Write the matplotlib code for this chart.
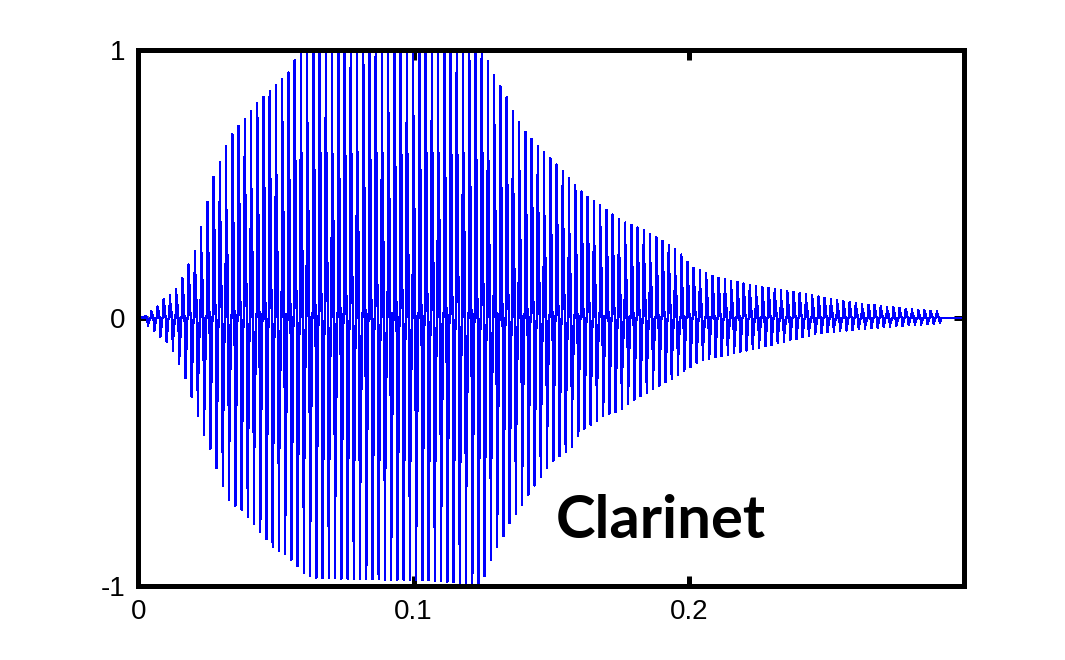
import numpy as np
import matplotlib
matplotlib.use('Agg')
import matplotlib.pyplot as plt

#%% values
# upper envelope of the note (time in s, peak value)
env_up_t = [0.0, 0.002, 0.004, 0.0068, 0.0094, 0.0117, 0.0141, 0.0162, 0.0184, 0.0206,
            0.0226, 0.0275, 0.0301, 0.0323, 0.0345, 0.0370, 0.0394, 0.0418, 0.0441,
            0.0482, 0.0512, 0.0551, 0.0573, 0.060, 0.090, 0.1255, 0.128, 0.1304,
            0.1330, 0.1370, 0.1400, 0.1460, 0.1500, 0.1540, 0.1580, 0.1620, 0.1690,
            0.1755, 0.1830, 0.1900, 0.1960, 0.2010, 0.2100, 0.2230, 0.2410, 0.2590,
            0.2770, 0.2915]
env_up_v = [0.0, 0.0, 0.02, 0.04, 0.07, 0.085, 0.11, 0.15, 0.20, 0.25,
            0.33, 0.53, 0.59, 0.65, 0.69, 0.72, 0.75, 0.78, 0.81,
            0.85, 0.88, 0.92, 0.97, 1.0, 1.0, 1.0, 0.93, 0.88,
            0.84, 0.75, 0.70, 0.63, 0.59, 0.55, 0.50, 0.46, 0.41,
            0.36, 0.33, 0.29, 0.25, 0.19, 0.15, 0.12, 0.09, 0.056,
            0.035, 0.022]

# lower envelope (time in s, trough value)
env_lo_t = [0.0, 0.002, 0.0035, 0.0080, 0.0105, 0.0130, 0.0152, 0.0174, 0.0199,
            0.0225, 0.0247, 0.0268, 0.0290, 0.0312, 0.0334, 0.0383, 0.0403,
            0.0446, 0.0493, 0.0537, 0.0605, 0.0650, 0.110, 0.1245, 0.1270, 0.1290,
            0.1312, 0.1334, 0.1356, 0.1381, 0.1403, 0.1470, 0.1500, 0.1525, 0.1570,
            0.1610, 0.1700, 0.1740, 0.1810, 0.1880, 0.1950, 0.2040, 0.2260, 0.2480,
            0.2700, 0.2915]
env_lo_v = [0.0, 0.0, -0.03, -0.07, -0.09, -0.13, -0.18, -0.23, -0.31,
            -0.39, -0.46, -0.50, -0.58, -0.64, -0.69, -0.72, -0.75,
            -0.80, -0.86, -0.88, -0.955, -0.97, -0.98, -1.0, -0.93, -0.88,
            -0.84, -0.80, -0.75, -0.72, -0.68, -0.58, -0.54, -0.52, -0.49,
            -0.42, -0.36, -0.35, -0.30, -0.26, -0.22, -0.16, -0.11, -0.056,
            -0.035, -0.02]

# one period of the tone (phase 0..1 -> normalised value), two humps each side
cycle_phase = [0.00, 0.04, 0.07, 0.09, 0.12, 0.16, 0.20, 0.24, 0.28, 0.32,
               0.36, 0.40, 0.44, 0.48, 0.52, 0.55, 0.57, 0.60, 0.64, 0.68,
               0.72, 0.76, 0.80, 0.84, 0.88, 0.92, 0.96]
cycle_value = [0.0, 0.50, 1.0, 1.0, 0.55, 0.30, 0.62, 0.55, 0.35, 0.15,
               0.08, 0.05, 0.0, -0.20, -0.60, -1.0, -1.0, -0.70, -0.40, -0.55,
               -0.50, -0.30, -0.12, -0.05, -0.03, 0.0, 0.02]

f0 = 441.5        # pitch, from spacing of the peaks
fs = 44100
t_end = 0.2915    # where the sound stops
x_max = 0.3

xticks = [0, 0.1, 0.2]
xtick_labels = ['0', '0.1', '0.2']
yticks = [-1, 0, 1]
ytick_labels = ['-1', '0', '1']

#%% build the samples
t = np.arange(0, x_max, 1.0 / fs)
phase = (t * f0) % 1.0
carrier = np.interp(phase, cycle_phase + [1.0], cycle_value + [0.0])
up = np.interp(t, env_up_t, env_up_v, right=0)
lo = np.interp(t, env_lo_t, env_lo_v, right=0)
sig = np.where(carrier > 0, carrier * up, -carrier * lo)
sig[t > t_end] = 0

#%% plot
fig = plt.figure(figsize=(10.65, 6.6), dpi=100)
ax = fig.add_axes([0.1298, 0.1121, 0.7755, 0.8129])
ax.plot(t, sig, color='#0000ff', lw=1.0, antialiased=False)

ax.set_xlim(0, x_max)
ax.set_ylim(-1, 1)
ax.set_xticks(xticks)
ax.set_xticklabels(xtick_labels)
ax.set_yticks(yticks)
ax.set_yticklabels(ytick_labels)
for s in ax.spines.values():
    s.set_linewidth(3.6)
ax.tick_params(direction='in', length=7, width=3.6, top=True, right=True,
               labelsize=20, pad=9)
for lab in ax.get_xticklabels() + ax.get_yticklabels():
    lab.set_family('Liberation Sans')

ax.text(0.1515, -0.82, 'Clarinet', fontsize=43, fontweight='bold',
        family='Lato', ha='left', va='baseline')

fig.savefig('out.png', dpi=100)
